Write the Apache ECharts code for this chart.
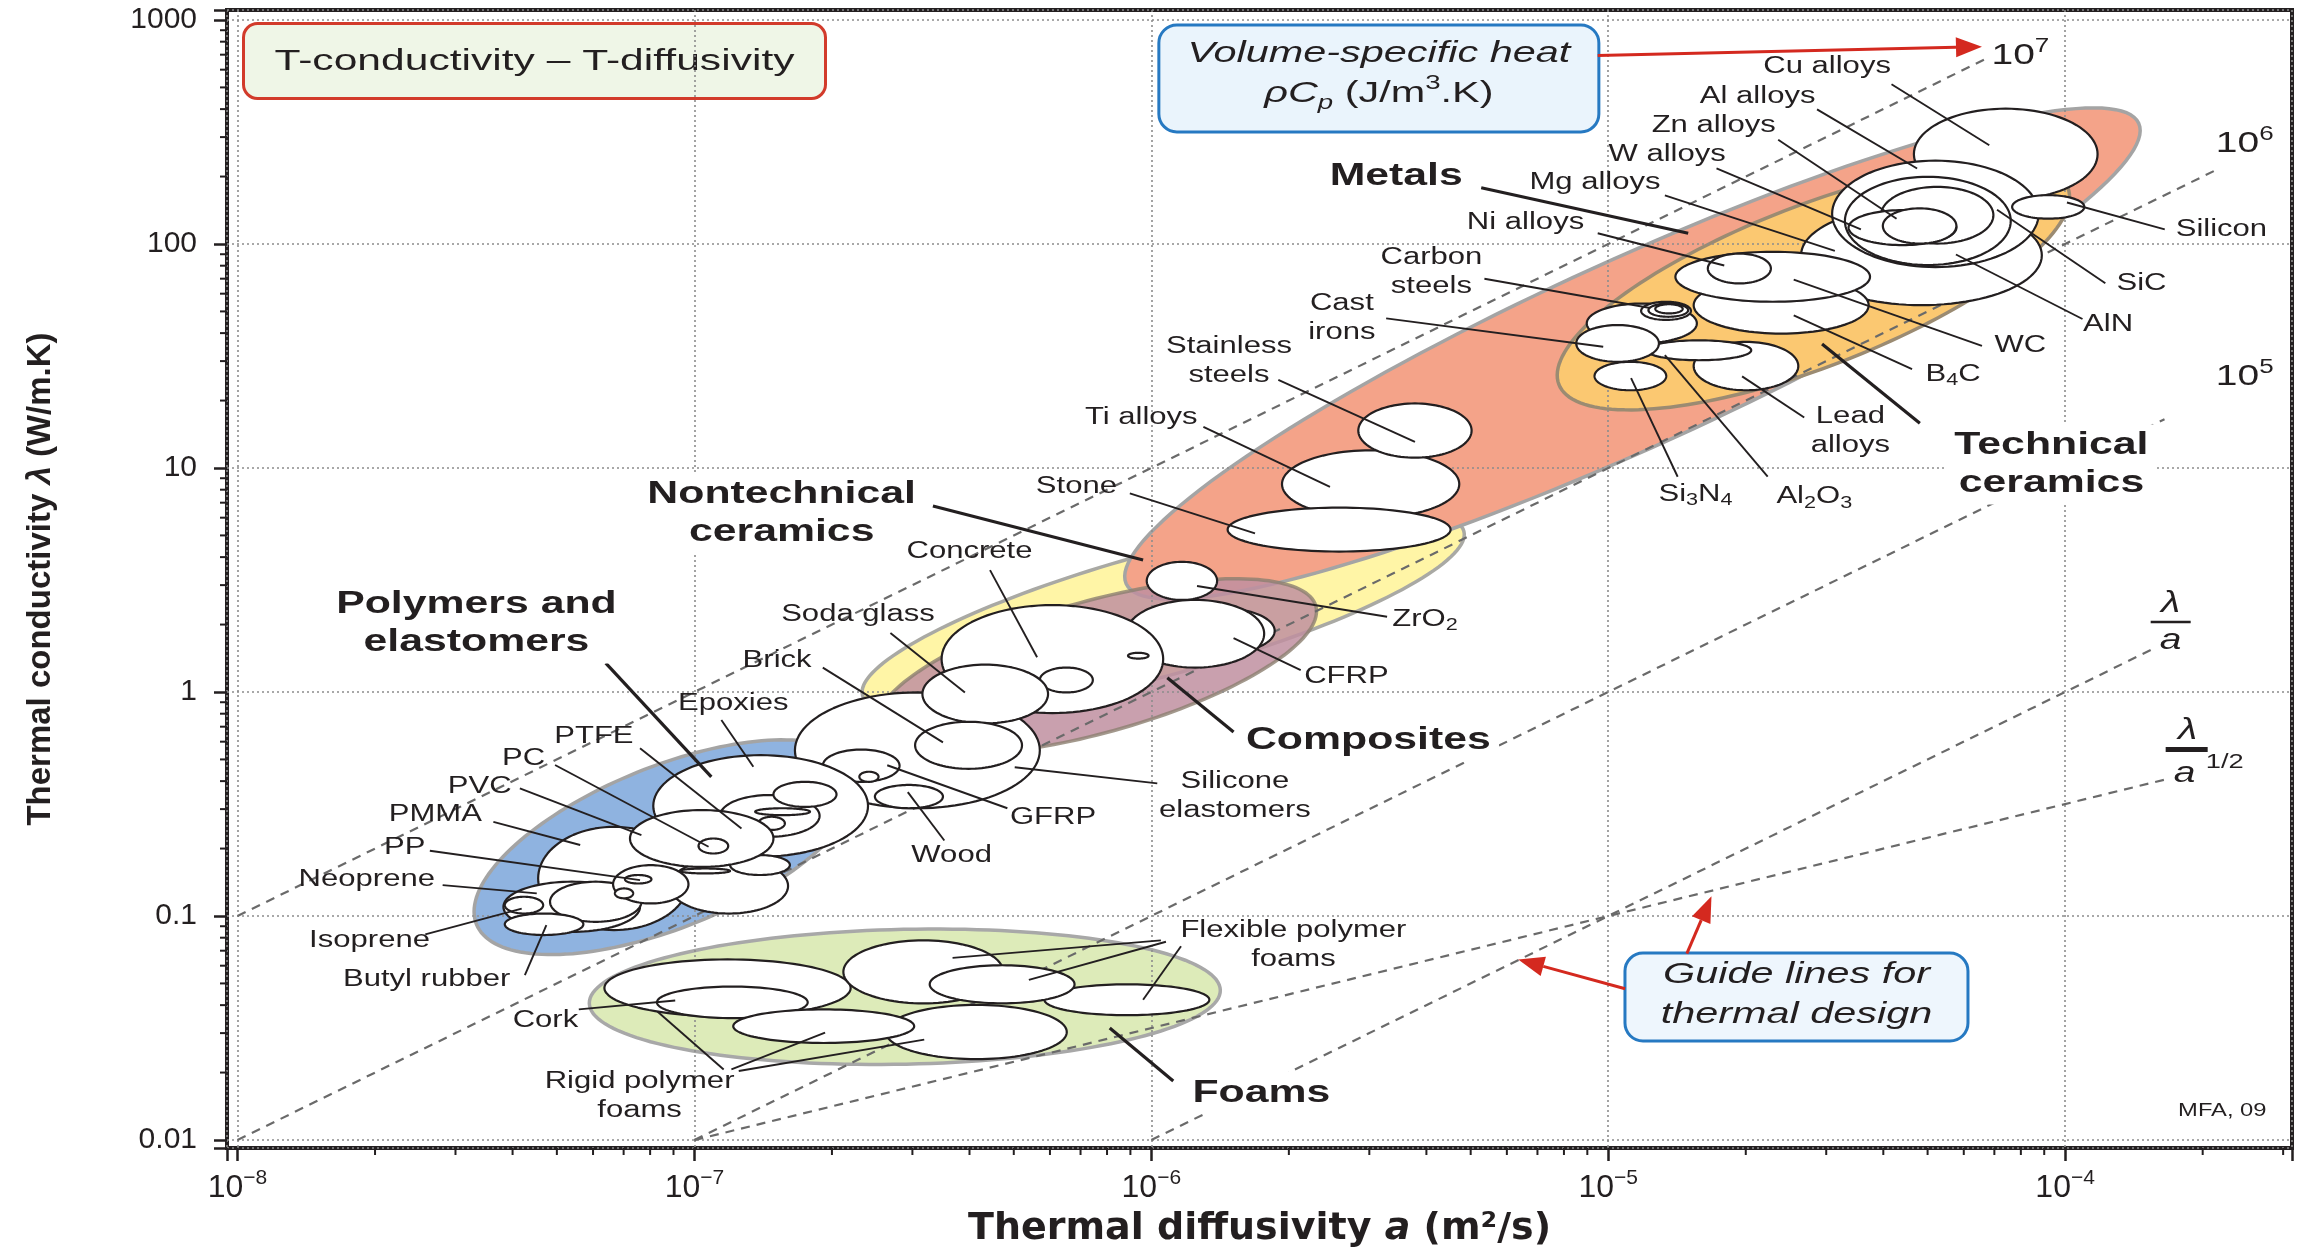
<!DOCTYPE html>
<html>
<head>
<meta charset="utf-8">
<title>Thermal conductivity – thermal diffusivity</title>
<script src="https://cdn.jsdelivr.net/npm/echarts@6/dist/echarts.min.js"></script>
<style>
  html, body { margin: 0; padding: 0; background: #ffffff; }
  #chart { width: 2300px; height: 1253px; }
</style>
</head>
<body>
<div id="chart"></div>
<script>
// ---------------- data ----------------
// Axis ranges: thermal diffusivity a (m²/s), thermal conductivity λ (W/m.K)
const xRange = [9.485e-9, 3.137e-4];
const yRange = [0.00921, 1108];
const yTickLabels = ['0.01', '0.1', '1', '10', '100', '1000'];

// Material families: ends of the major axis [log10 a, log10 λ] and half-thickness (decades of λ)
const familyNames = ['Nontechnical ceramics', 'Metals', 'Composites', 'Technical ceramics', 'Polymers and elastomers', 'Foams'];
const familyAxisEnds = [
  [[-6.632, -0.015], [-5.316, 0.718]],
  [[-6.055, 0.483], [-3.839, 2.539]],
  [[-6.600, -0.159], [-5.640, 0.384]],
  [[-5.108, 1.373], [-3.994, 2.251]],
  [[-7.477, -1.037], [-6.642, -0.349]],
  [[-7.230, -1.390], [-5.849, -1.331]]
];
const familyHalfWidth = [0.275, 0.419, 0.295, 0.360, 0.360, 0.301];

// Materials: [name, log10 a min, log10 a max, log10 λ min, log10 λ max], in drawing order
const materialBubbles = [
  ['Cu alloys', -4.331, -3.929, 2.198, 2.604],
  ['Mg alloys', -4.578, -4.051, 1.727, 2.172],
  ['Al alloys', -4.510, -4.058, 1.897, 2.372],
  ['SiC', -4.482, -4.119, 1.906, 2.300],
  ['AlN', -4.403, -4.157, 2.002, 2.255],
  ['W alloys', -4.474, -4.238, 1.995, 2.151],
  ['Zn alloys', -4.399, -4.238, 2.002, 2.159],
  ['B4C', -4.813, -4.430, 1.600, 1.853],
  ['WC', -4.853, -4.427, 1.742, 1.965],
  ['Ni alloys', -4.782, -4.644, 1.824, 1.957],
  ['Silicon', -4.116, -3.958, 2.113, 2.218],
  ['Carbon steels', -5.047, -4.806, 1.557, 1.734],
  ['Lead alloys', -4.813, -4.584, 1.347, 1.563],
  ['Al2O3', -4.916, -4.687, 1.481, 1.570],
  ['Cast irons', -5.070, -4.889, 1.474, 1.638],
  ['Carbon steels', -4.928, -4.819, 1.661, 1.742],
  ['Carbon steels', -4.912, -4.825, 1.675, 1.734],
  ['Carbon steels', -4.897, -4.837, 1.690, 1.731],
  ['Si3N4', -5.030, -4.873, 1.347, 1.474],
  ['Ti alloys', -5.714, -5.326, 0.777, 1.079],
  ['Stainless steels', -5.547, -5.299, 1.046, 1.288],
  ['Stone', -5.833, -5.345, 0.627, 0.823],
  ['Silicone elastomers', -6.780, -6.244, -0.519, -0.002],
  ['CFRP', -5.984, -5.730, 0.168, 0.378],
  ['CFRP', -6.055, -5.753, 0.109, 0.411],
  ['Concrete', -6.459, -5.974, -0.094, 0.388],
  ['ZrO2', -6.010, -5.856, 0.411, 0.581],
  ['Concrete', -6.051, -6.006, 0.149, 0.175],
  ['Soda glass', -6.244, -6.128, -0.002, 0.109],
  ['Soda glass', -6.501, -6.226, -0.140, 0.122],
  ['Brick', -6.517, -6.283, -0.343, -0.133],
  ['GFRP', -6.719, -6.551, -0.401, -0.257],
  ['GFRP', -6.639, -6.597, -0.401, -0.356],
  ['Wood', -6.605, -6.456, -0.519, -0.415],
  ['Epoxies', -7.090, -6.620, -0.735, -0.282],
  ['PTFE', -6.944, -6.726, -0.646, -0.460],
  ['Epoxies', -6.827, -6.689, -0.513, -0.401],
  ['PTFE', -6.867, -6.747, -0.550, -0.519],
  ['PTFE', -6.966, -6.933, -0.616, -0.580],
  ['PTFE', -6.908, -6.864, -0.631, -0.580],
  ['PTFE', -6.860, -6.802, -0.616, -0.557],
  ['PMMA', -7.342, -7.010, -1.063, -0.602],
  ['PC', -7.054, -6.795, -0.989, -0.743],
  ['PC', -6.922, -6.791, -0.817, -0.728],
  ['PC', -7.031, -6.922, -0.810, -0.788],
  ['PVC', -7.141, -6.827, -0.781, -0.527],
  ['PC', -6.991, -6.926, -0.721, -0.654],
  ['Neoprene', -7.418, -7.119, -1.071, -0.847],
  ['Neoprene', -7.316, -7.116, -1.026, -0.847],
  ['PP', -7.178, -7.013, -0.944, -0.773],
  ['PP', -7.152, -7.094, -0.855, -0.817],
  ['PP', -7.174, -7.134, -0.921, -0.877],
  ['Isoprene', -7.415, -7.331, -0.989, -0.914],
  ['Butyl rubber', -7.415, -7.243, -1.085, -0.989],
  ['Rigid polymer foams', -7.197, -6.658, -1.449, -1.194],
  ['Cork', -7.082, -6.752, -1.456, -1.315],
  ['Rigid polymer foams', -6.581, -6.185, -1.639, -1.397],
  ['Rigid polymer foams', -6.915, -6.519, -1.567, -1.417],
  ['Flexible polymer foams', -6.674, -6.324, -1.390, -1.109],
  ['Flexible polymer foams', -6.234, -5.873, -1.443, -1.305],
  ['Flexible polymer foams', -6.485, -6.168, -1.390, -1.220]
];

// Guide lines λ = ρCp·a : [ρCp (J/m³.K), a from, a to]
const heatCapacityGuides = [
  [1e7, 1e-8, 6.65e-5],
  [1e6, 1e-8, 2.17e-4],
  [1e5, 1e-7, 1.65e-4],
  [1e4, 1e-6, 1.58e-4]
];
// Guide line λ = C·a^1/2 : [C, a from, a to]
const effusivityGuides = [[31.6, 1e-7, 1.68e-4]];

// Labels: [text, log10 a, log10 λ, kind]   (m = material, g = family, v = guide value, f = footnote)
const labels = [
  ['Cu alloys', -4.521, 2.793, 'm'],
  ['Al alloys', -4.673, 2.657, 'm'],
  ['Zn alloys', -4.769, 2.526, 'm'],
  ['W alloys', -4.871, 2.398, 'm'],
  ['Mg alloys', -5.029, 2.273, 'm'],
  ['Metals', -5.464, 2.303, 'g'],
  ['Ni alloys', -5.181, 2.094, 'm'],
  ['Carbon\nsteels', -5.387, 1.874, 'm'],
  ['Cast\nirons', -5.583, 1.668, 'm'],
  ['Stainless\nsteels', -5.830, 1.478, 'm'],
  ['Ti alloys', -6.022, 1.223, 'm'],
  ['Stone', -6.164, 0.915, 'm'],
  ['Nontechnical\nceramics', -6.809, 0.797, 'g'],
  ['Concrete', -6.398, 0.627, 'm'],
  ['Soda glass', -6.642, 0.345, 'm'],
  ['Brick', -6.819, 0.142, 'm'],
  ['Silicone\nelastomers', -5.817, -0.467, 'm'],
  ['GFRP', -6.215, -0.559, 'm'],
  ['Wood', -6.437, -0.729, 'm'],
  ['Composites', -5.525, -0.218, 'g'],
  ['CFRP', -5.573, 0.070, 'm'],
  ['ZrO{s|2}', -5.401, 0.325, 'm'],
  ['Polymers and\nelastomers', -7.477, 0.306, 'g'],
  ['Epoxies', -6.915, -0.054, 'm'],
  ['PTFE', -7.220, -0.198, 'm'],
  ['PC', -7.374, -0.297, 'm'],
  ['PVC', -7.470, -0.421, 'm'],
  ['PMMA', -7.567, -0.546, 'm'],
  ['PP', -7.634, -0.696, 'm'],
  ['Neoprene', -7.717, -0.840, 'm'],
  ['Isoprene', -7.711, -1.109, 'm'],
  ['Butyl rubber', -7.586, -1.285, 'm'],
  ['Cork', -7.326, -1.469, 'm'],
  ['Rigid polymer\nfoams', -7.120, -1.803, 'm'],
  ['Flexible polymer\nfoams', -5.689, -1.128, 'm'],
  ['Foams', -5.759, -1.790, 'g'],
  ['Lead\nalloys', -4.470, 1.164, 'm'],
  ['Technical\nceramics', -4.030, 1.016, 'g'],
  ['Si{s|3}N{s|4}', -4.809, 0.882, 'm'],
  ['Al{s|2}O{s|3}', -4.549, 0.872, 'm'],
  ['B{s|4}C', -4.245, 1.417, 'm'],
  ['WC', -4.098, 1.545, 'm'],
  ['AlN', -3.906, 1.640, 'm'],
  ['SiC', -3.833, 1.825, 'm'],
  ['Silicon', -3.658, 2.065, 'm'],
  ['10{p|7}', -4.098, 2.841, 'v'],
  ['10{p|6}', -3.607, 2.449, 'v'],
  ['10{p|5}', -3.607, 1.409, 'v'],
  ['MFA, 09', -3.656, -1.868, 'f']
];

// Leader lines: [[log10 a, log10 λ] from, to, weight]
const leaders = [
  [[-4.380, 2.713], [-4.166, 2.441], 1],
  [[-4.543, 2.601], [-4.324, 2.337], 1],
  [[-4.628, 2.465], [-4.369, 2.113], 1],
  [[-4.763, 2.337], [-4.447, 2.065], 1],
  [[-4.876, 2.217], [-4.504, 1.969], 1],
  [[-5.278, 2.251], [-4.825, 2.048], 2],
  [[-5.023, 2.048], [-4.746, 1.904], 1],
  [[-5.271, 1.845], [-4.908, 1.714], 1],
  [[-5.486, 1.668], [-5.011, 1.541], 1],
  [[-5.722, 1.393], [-5.423, 1.117], 1],
  [[-5.886, 1.184], [-5.609, 0.916], 1],
  [[-6.047, 0.887], [-5.773, 0.708], 1],
  [[-6.478, 0.830], [-6.018, 0.589], 2],
  [[-6.353, 0.544], [-6.250, 0.155], 1],
  [[-6.571, 0.263], [-6.408, -0.002], 1],
  [[-6.719, 0.109], [-6.456, -0.225], 1],
  [[-5.987, -0.408], [-6.299, -0.336], 1],
  [[-6.315, -0.519], [-6.578, -0.327], 1],
  [[-6.453, -0.663], [-6.533, -0.447], 1],
  [[-5.820, -0.179], [-5.965, 0.064], 2],
  [[-5.673, 0.098], [-5.820, 0.240], 1],
  [[-5.484, 0.336], [-5.900, 0.473], 1],
  [[-7.194, 0.129], [-6.963, -0.379], 2],
  [[-6.941, -0.125], [-6.871, -0.334], 1],
  [[-7.119, -0.251], [-6.897, -0.609], 1],
  [[-7.305, -0.326], [-6.969, -0.691], 1],
  [[-7.382, -0.430], [-7.116, -0.639], 1],
  [[-7.440, -0.580], [-7.250, -0.683], 1],
  [[-7.579, -0.709], [-7.119, -0.840], 1],
  [[-7.551, -0.862], [-7.345, -0.899], 1],
  [[-7.589, -1.082], [-7.378, -0.967], 1],
  [[-7.371, -1.264], [-7.324, -1.041], 1],
  [[-7.253, -1.417], [-7.042, -1.377], 1],
  [[-6.936, -1.685], [-7.081, -1.426], 1],
  [[-6.919, -1.685], [-6.714, -1.521], 1],
  [[-6.903, -1.692], [-6.497, -1.552], 1],
  [[-5.979, -1.109], [-6.435, -1.187], 1],
  [[-5.968, -1.115], [-6.268, -1.285], 1],
  [[-5.935, -1.135], [-6.018, -1.374], 1],
  [[-5.952, -1.737], [-6.091, -1.500], 2],
  [[-4.571, 1.225], [-4.707, 1.409], 1],
  [[-4.318, 1.200], [-4.532, 1.553], 2],
  [[-4.848, 0.961], [-4.950, 1.401], 1],
  [[-4.651, 0.961], [-4.876, 1.504], 1],
  [[-4.335, 1.441], [-4.594, 1.681], 1],
  [[-4.182, 1.545], [-4.594, 1.841], 1],
  [[-3.962, 1.665], [-4.239, 1.953], 1],
  [[-3.912, 1.825], [-4.149, 2.153], 1],
  [[-3.782, 2.065], [-3.996, 2.185], 1]
];

// Call-out boxes (centre, log10 a / log10 λ) and their red arrows
const calloutBoxes = [['heat', -5.502, 2.739], ['guide', -4.588, -1.362]];
const calloutArrows = [
  [[-5.023, 2.841], [-4.182, 2.881]],
  [[-4.963, -1.325], [-5.197, -1.194]],
  [[-4.828, -1.168], [-4.774, -0.912]]
];
// Captions of the guide-line families (fraction centre)
const guideCaptions = [['inv', -3.769, 0.312], ['half', -3.734, -0.257]];

// ---------------- drawing ----------------
const INK = '#231f20';
const RED = '#d4291f';
const FONT = "'Liberation Sans', Arial, Helvetica, sans-serif";
const P = v => Math.pow(10, v);

function ellipsePoints(cx, cy, rx, ry, ang, n) {
  const pts = [];
  const ca = Math.cos(ang), sa = Math.sin(ang);
  for (let k = 0; k < n; k++) {
    const t = 2 * Math.PI * k / n;
    const ex = rx * Math.cos(t), ey = ry * Math.sin(t);
    pts.push([cx + ex * ca - ey * sa, cy + ex * sa + ey * ca]);
  }
  return pts;
}
function pxPerDecadeY(api) {
  return Math.abs(api.coord([1e-6, 1])[1] - api.coord([1e-6, 10])[1]);
}
function richify(str) {
  return str.split('\n').map(function (line) {
    return line.replace(/(\{[a-z]+\|[^}]*\})|([^{]+)/g, function (m, tag, plain) {
      return tag ? tag : '{n|' + plain + '}';
    });
  }).join('\n');
}

const familyStyles = [
  { fill: '#fff5a6', stroke: '#a9a9a4' },
  { fill: '#f4a389', stroke: '#a4a4a4', blend: 'multiply' },
  { fill: 'rgba(192,143,160,0.85)', stroke: 'rgba(140,128,112,0.8)' },
  { fill: '#fbc871', stroke: '#9b8b72' },
  { fill: '#8fb3e0', stroke: '#a4a4a4' },
  { fill: '#ddebb9', stroke: '#a8a8a8' }
];

const labelKinds = {
  m: { size: 23, weight: 'normal', lh: 29, sx: 1.35 },
  g: { size: 31, weight: 'bold', lh: 38, sx: 1.38, bg: '#ffffff' },
  v: { size: 30, weight: 'normal', lh: 38, sx: 1.3 },
  f: { size: 19, weight: 'normal', lh: 24, sx: 1.25 }
};
function labelRich(kind) {
  const s = labelKinds[kind];
  const small = Math.round(s.size * 0.68);
  const lhSmall = Math.round(s.size * 0.6);
  return {
    n: { fontSize: s.size, fontWeight: s.weight, fontFamily: FONT, lineHeight: s.lh, fill: INK },
    s: { fontSize: small, fontWeight: s.weight, fontFamily: FONT, lineHeight: lhSmall, verticalAlign: 'bottom', fill: INK },
    p: { fontSize: small, fontWeight: s.weight, fontFamily: FONT, lineHeight: lhSmall, verticalAlign: 'top', fill: INK }
  };
}

const guideLines = heatCapacityGuides.map(g => [[g[1], g[0] * g[1]], [g[2], g[0] * g[2]]])
  .concat(effusivityGuides.map(g => [[g[1], g[0] * Math.sqrt(g[1])], [g[2], g[0] * Math.sqrt(g[2])]]));

const calloutSpec = {
  heat: {
    w: 440, h: 107, dy: -5, fill: '#eaf4fc', stroke: '#2679c2',
    text: '{i|Volume-specific heat}\n{i|ρC}{is|p}{n| (J/m}{ns|3}{n|.K)}'
  },
  guide: {
    w: 343, h: 88, dy: -2, fill: '#eef6fd', stroke: '#2679c2',
    text: '{i|Guide lines for}\n{i|thermal design}'
  }
};
const calloutRich = {
  i: { fontSize: 30, fontStyle: 'italic', fontFamily: FONT, lineHeight: 40, fill: INK },
  n: { fontSize: 30, fontFamily: FONT, lineHeight: 40, fill: INK },
  is: { fontSize: 20, fontStyle: 'italic', fontFamily: FONT, lineHeight: 16, verticalAlign: 'bottom', fill: INK },
  ns: { fontSize: 20, fontFamily: FONT, lineHeight: 16, verticalAlign: 'top', fill: INK }
};

function midpointData(pairs) {
  return pairs.map(p => [P((p[0][0] + p[1][0]) / 2), P((p[0][1] + p[1][1]) / 2)]);
}
function customBase(name, z, data, renderItem) {
  return {
    type: 'custom', name: name, coordinateSystem: 'cartesian2d', z: z, silent: true,
    encode: { x: 0, y: 1 }, data: data, renderItem: renderItem
  };
}

const series = [
  // family envelopes
  customBase('families', -2, midpointData(familyAxisEnds), function (params, api) {
    const i = params.dataIndex;
    const e = familyAxisEnds[i];
    const p1 = api.coord([P(e[0][0]), P(e[0][1])]);
    const p2 = api.coord([P(e[1][0]), P(e[1][1])]);
    const cx = (p1[0] + p2[0]) / 2, cy = (p1[1] + p2[1]) / 2;
    const rx = Math.hypot(p2[0] - p1[0], p2[1] - p1[1]) / 2;
    const ry = familyHalfWidth[i] * pxPerDecadeY(api);
    const ang = Math.atan2(p2[1] - p1[1], p2[0] - p1[0]);
    const st = familyStyles[i];
    const style = { fill: st.fill, stroke: st.stroke, lineWidth: 3.5 };
    if (st.blend) style.blend = st.blend;
    return { type: 'polygon', z2: i, shape: { points: ellipsePoints(cx, cy, rx, ry, ang, 160) }, style: style };
  }),
  // guide lines
  customBase('guides', 1, guideLines.map(g => [Math.sqrt(g[0][0] * g[1][0]), Math.sqrt(g[0][1] * g[1][1])]), function (params, api) {
    const g = guideLines[params.dataIndex];
    const a = api.coord(g[0]), b = api.coord(g[1]);
    return { type: 'line', shape: { x1: a[0], y1: a[1], x2: b[0], y2: b[1] },
      style: { stroke: '#6a6a6a', lineWidth: 2.2, lineDash: [9, 7] } };
  }),
  // minor axis ticks
  customBase('minor ticks', 1, [[xRange[0], yRange[0]]], function (params, api) {
    const o = api.coord([xRange[0], yRange[0]]);
    const children = [];
    for (let k = -9; k <= -3; k++) {
      for (let m = 2; m <= 9; m++) {
        const v = m * Math.pow(10, k);
        if (v < xRange[0] || v > xRange[1]) continue;
        const x = api.coord([v, yRange[0]])[0];
        children.push({ type: 'line', shape: { x1: x, y1: o[1], x2: x, y2: o[1] + 7 }, style: { stroke: INK, lineWidth: 2 } });
      }
    }
    for (let k = -3; k <= 3; k++) {
      for (let m = 2; m <= 9; m++) {
        const v = m * Math.pow(10, k);
        if (v < yRange[0] || v > yRange[1]) continue;
        const y = api.coord([xRange[0], v])[1];
        children.push({ type: 'line', shape: { x1: o[0], y1: y, x2: o[0] - 7, y2: y }, style: { stroke: INK, lineWidth: 2 } });
      }
    }
    return { type: 'group', children: children };
  }),
  // material bubbles
  customBase('materials', 2, materialBubbles.map(b => [P((b[1] + b[2]) / 2), P((b[3] + b[4]) / 2)]), function (params, api) {
    const b = materialBubbles[params.dataIndex];
    const p1 = api.coord([P(b[1]), P(b[3])]);
    const p2 = api.coord([P(b[2]), P(b[4])]);
    const cx = (p1[0] + p2[0]) / 2, cy = (p1[1] + p2[1]) / 2;
    const rx = Math.abs(p2[0] - p1[0]) / 2, ry = Math.abs(p2[1] - p1[1]) / 2;
    return { type: 'polygon', z2: params.dataIndex, shape: { points: ellipsePoints(cx, cy, rx, ry, 0, 100) },
      style: { fill: '#ffffff', stroke: INK, lineWidth: 2.2, lineJoin: 'round' } };
  }),
  // leader lines
  customBase('leaders', 3, midpointData(leaders), function (params, api) {
    const l = leaders[params.dataIndex];
    const a = api.coord([P(l[0][0]), P(l[0][1])]), b = api.coord([P(l[1][0]), P(l[1][1])]);
    return { type: 'line', shape: { x1: a[0], y1: a[1], x2: b[0], y2: b[1] },
      style: { stroke: INK, lineWidth: l[2] === 2 ? 3.2 : 1.9 } };
  }),
  // labels
  customBase('labels', 4, labels.map(l => [P(l[1]), P(l[2])]), function (params, api) {
    const L = labels[params.dataIndex];
    const k = labelKinds[L[3]];
    const p = api.coord([P(L[1]), P(L[2])]);
    const style = {
      text: richify(L[0]), rich: labelRich(L[3]),
      fontSize: k.size, fontFamily: FONT, fontWeight: k.weight, fill: INK,
      align: 'center', verticalAlign: 'middle'
    };
    if (k.bg) { style.backgroundColor = k.bg; style.padding = [2, 6, 2, 6]; }
    return { type: 'text', x: p[0], y: p[1], scaleX: k.sx, z2: params.dataIndex, style: style };
  }),
  // call-out boxes
  customBase('callouts', 5, calloutBoxes.map(c => [P(c[1]), P(c[2])]), function (params, api) {
    const c = calloutBoxes[params.dataIndex];
    const s = calloutSpec[c[0]];
    const p = api.coord([P(c[1]), P(c[2])]);
    return { type: 'group', children: [
      { type: 'rect', shape: { x: p[0] - s.w / 2, y: p[1] - s.h / 2, width: s.w, height: s.h, r: 18 },
        style: { fill: s.fill, stroke: s.stroke, lineWidth: 3 } },
      { type: 'text', x: p[0], y: p[1] + s.dy, scaleX: 1.38,
        style: { text: s.text, rich: calloutRich, fontSize: 30, fontFamily: FONT, fill: INK, align: 'center', verticalAlign: 'middle' } }
    ] };
  }),
  // red arrows
  customBase('arrows', 5, midpointData(calloutArrows), function (params, api) {
    const r = calloutArrows[params.dataIndex];
    const a = api.coord([P(r[0][0]), P(r[0][1])]), b = api.coord([P(r[1][0]), P(r[1][1])]);
    const ang = Math.atan2(b[1] - a[1], b[0] - a[0]);
    const hl = 26, hw = 10;
    const base = [b[0] - hl * Math.cos(ang), b[1] - hl * Math.sin(ang)];
    return { type: 'group', children: [
      { type: 'line', shape: { x1: a[0], y1: a[1], x2: base[0], y2: base[1] }, style: { stroke: RED, lineWidth: 3 } },
      { type: 'polygon', shape: { points: [b,
          [base[0] + hw * Math.sin(ang), base[1] - hw * Math.cos(ang)],
          [base[0] - hw * Math.sin(ang), base[1] + hw * Math.cos(ang)]] }, style: { fill: RED } }
    ] };
  }),
  // λ/a and λ/a^1/2 captions
  customBase('captions', 5, guideCaptions.map(c => [P(c[1]), P(c[2])]), function (params, api) {
    const c = guideCaptions[params.dataIndex];
    const p = api.coord([P(c[1]), P(c[2])]);
    const ital = { fontSize: 30, fontStyle: 'italic', fontFamily: FONT, fill: INK, align: 'center', verticalAlign: 'middle' };
    const children = [];
    if (c[0] === 'inv') {
      children.push({ type: 'text', x: p[0], y: p[1] - 18, scaleX: 1.3, style: Object.assign({ text: 'λ' }, ital) });
      children.push({ type: 'line', shape: { x1: p[0] - 20, y1: p[1], x2: p[0] + 20, y2: p[1] }, style: { stroke: INK, lineWidth: 2.5 } });
      children.push({ type: 'text', x: p[0], y: p[1] + 19, scaleX: 1.3, style: Object.assign({ text: 'a' }, ital) });
    } else {
      children.push({ type: 'text', x: p[0] + 1, y: p[1] - 19, scaleX: 1.3, style: Object.assign({ text: 'λ' }, ital) });
      children.push({ type: 'line', shape: { x1: p[0] - 21, y1: p[1], x2: p[0] + 21, y2: p[1] }, style: { stroke: INK, lineWidth: 5 } });
      children.push({ type: 'text', x: p[0] - 2, y: p[1] + 24, scaleX: 1.3, style: Object.assign({ text: 'a' }, ital) });
      children.push({ type: 'text', x: p[0] + 38, y: p[1] + 13, scaleX: 1.3,
        style: { text: '1/2', fontSize: 21, fontFamily: FONT, fill: INK, align: 'center', verticalAlign: 'middle' } });
    }
    return { type: 'group', children: children };
  })
];

const chart = echarts.init(document.getElementById('chart'), null, { renderer: 'canvas' });
chart.setOption({
  animation: false,
  backgroundColor: '#ffffff',
  grid: { left: 227, right: 8, top: 10, bottom: 105, show: true, borderColor: INK, borderWidth: 4, backgroundColor: 'transparent' },
  xAxis: {
    type: 'log', logBase: 10, min: xRange[0], max: xRange[1],
    axisLine: { show: false },
    axisTick: { show: true, length: 13, lineStyle: { color: INK, width: 2.5 } },
    axisLabel: {
      margin: 20,
      formatter: function (v) {
        const lg = Math.log10(v), e = Math.round(lg);
        if (Math.abs(lg - e) > 1e-6) return '';
        return '{b|10}{e|' + (e < 0 ? '−' + (-e) : e) + '}';
      },
      rich: {
        b: { fontSize: 32, fontFamily: FONT, color: INK, lineHeight: 40 },
        e: { fontSize: 21, fontFamily: FONT, color: INK, lineHeight: 16, verticalAlign: 'top' }
      }
    },
    splitLine: { show: true, lineStyle: { color: '#8c8c8c', width: 1.6, type: [2, 3] } },
    name: 'Thermal diffusivity {i|a} (m²/s)',
    nameLocation: 'middle', nameGap: 62,
    nameTextStyle: {
      fontFamily: "'DejaVu Sans', sans-serif", fontWeight: 'bold', fontSize: 38, color: INK,
      rich: { i: { fontFamily: "'DejaVu Sans', sans-serif", fontWeight: 'bold', fontStyle: 'italic', fontSize: 38, color: INK } }
    }
  },
  yAxis: {
    type: 'log', logBase: 10, min: yRange[0], max: yRange[1],
    axisLine: { show: false },
    axisTick: { show: true, length: 13, lineStyle: { color: INK, width: 2.5 } },
    axisLabel: {
      margin: 30, fontSize: 30, fontFamily: FONT, color: INK,
      formatter: function (v) {
        const lg = Math.log10(v), e = Math.round(lg);
        if (Math.abs(lg - e) > 1e-6) return '';
        return yTickLabels[e + 2] || '';
      }
    },
    splitLine: { show: true, lineStyle: { color: '#8c8c8c', width: 1.6, type: [2, 3] } },
    name: 'Thermal conductivity {i|λ} (W/m.K)',
    nameLocation: 'middle', nameGap: 170, nameRotate: 90,
    nameTextStyle: {
      fontFamily: FONT, fontWeight: 'bold', fontSize: 33, color: INK,
      rich: { i: { fontFamily: FONT, fontWeight: 'bold', fontStyle: 'italic', fontSize: 33, color: INK } }
    }
  },
  graphic: [{
    type: 'group', left: 242, top: 22, z: 10,
    children: [
      { type: 'rect', shape: { x: 0, y: 0, width: 582, height: 75, r: 14 }, style: { fill: '#eff6e7', stroke: '#d23b2b', lineWidth: 3 } },
      { type: 'text', x: 291, y: 38, scaleX: 1.42,
        style: { text: 'T-conductivity – T-diffusivity', fontSize: 30, fontFamily: FONT, fill: INK, align: 'center', verticalAlign: 'middle' } }
    ]
  }],
  series: series
});
</script>
</body>
</html>
